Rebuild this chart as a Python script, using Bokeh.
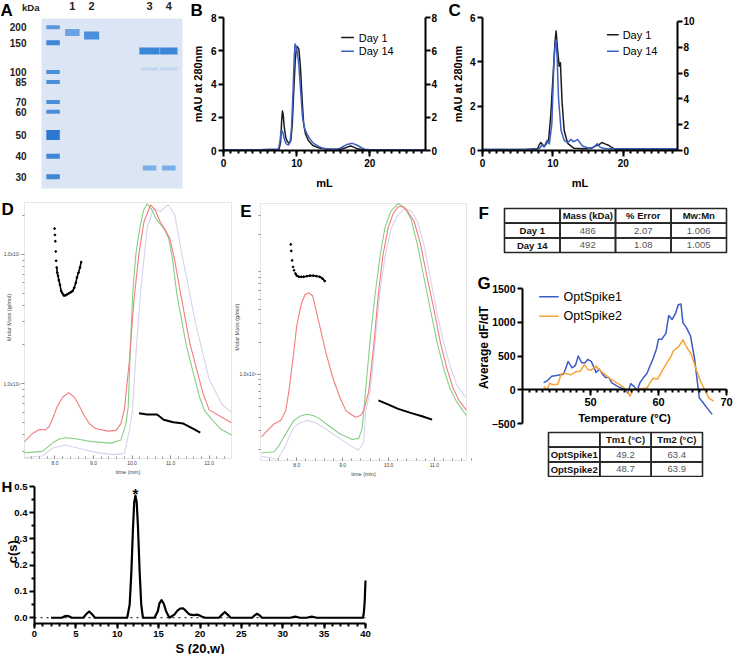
import numpy as np
from bokeh.plotting import figure
from bokeh.models import (Range1d, LinearAxis, LogAxis, FixedTicker, Label,
                          NumeralTickFormatter, LinearScale, BoxAnnotation)
from bokeh.layouts import row, column
from bokeh.embed import file_html
from bokeh.resources import INLINE
from bokeh.core.properties import value

FONT = "Liberation Sans"

# ======================= DATA =======================
# A  SDS-PAGE gel (migration in % of gel length)
ladder_kda = [200, 150, 100, 85, 70, 60, 50, 40, 30]
ladder_migration = [5.1, 14.3, 31.4, 37.4, 49.1, 54.9, 68.6, 81.1, 93.1]
lane_labels = ["1", "2", "3", "4"]
lane_slots = [1, 2, 5, 6]
ladder_slot = 0
band_lane = [1, 2, 3, 4, 3, 4, 3, 4]
band_migration = [8.3, 10.0, 19.1, 19.1, 29.7, 29.7, 88.0, 88.0]

# B  SEC, mL vs mAU
b_day1_ml = [0, 5, 7.6, 7.8, 7.95, 8.05, 8.15, 8.3, 8.5, 8.7, 8.95, 9.2, 9.4, 9.6, 9.8, 9.95, 10.08, 10.3,
             10.5, 10.75, 10.95, 11.2, 11.6, 12.2, 13.2, 14.5, 16.0, 16.6, 17.0, 17.4, 17.8, 18.3, 19.0, 22, 27.6]
b_day1_mau = [0.05, 0.05, 0.08, 0.5, 1.8, 2.37, 2.2, 1.4, 0.8, 0.55, 0.43, 0.6, 1.6, 3.6, 5.4, 6.1, 6.25, 6.1,
              5.1, 3.0, 1.6, 1.0, 0.6, 0.3, 0.13, 0.07, 0.07, 0.15, 0.22, 0.27, 0.2, 0.1, 0.05, 0.04, 0.04]
b_day14_ml = [0, 5, 7.5, 7.7, 7.85, 7.95, 8.1, 8.3, 8.5, 8.7, 8.9, 9.1, 9.3, 9.5, 9.65, 9.77, 9.9, 10.1, 10.3,
              10.55, 10.8, 11.1, 11.4, 11.8, 12.3, 13.0, 13.6, 14.5, 15.5, 16.0, 16.5, 17.0, 17.6, 18.2, 18.8,
              19.3, 20, 27.6]
b_day14_mau = [0.05, 0.05, 0.08, 0.5, 1.1, 1.24, 1.1, 0.7, 0.45, 0.36, 0.33, 0.5, 1.4, 3.5, 5.5, 6.41, 6.3, 5.9,
               5.1, 3.5, 2.0, 1.3, 1.0, 0.7, 0.43, 0.25, 0.13, 0.08, 0.08, 0.15, 0.28, 0.38, 0.43, 0.33, 0.18,
               0.08, 0.05, 0.05]

# C  SEC, mL vs mAU
c_day1_ml = [0, 6, 7.8, 8.05, 8.28, 8.5, 8.75, 9.1, 9.4, 9.7, 10.1, 10.3, 10.46, 10.65, 10.9, 11.07, 11.3,
             11.6, 12.1, 13.0, 14.5, 15.5, 16.0, 16.5, 16.97, 17.4, 17.8, 18.3, 18.8, 20, 27.6]
c_day1_mau = [0.05, 0.05, 0.08, 0.25, 0.36, 0.28, 0.17, 0.32, 0.5, 1.6, 3.8, 4.9, 5.39, 4.6, 3.8, 3.96, 2.2,
              0.9, 0.32, 0.1, 0.08, 0.1, 0.2, 0.25, 0.36, 0.3, 0.25, 0.15, 0.06, 0.05, 0.05]
c_day14_ml = [0, 6, 7.8, 8.1, 8.45, 8.75, 9.15, 9.5, 9.85, 10.15, 10.3, 10.46, 10.6, 10.8, 11.16, 11.6, 12.1,
              12.56, 12.9, 13.3, 13.5, 14.2, 15.1, 15.8, 16.3, 16.7, 17.2, 17.7, 20, 27.6]
c_day14_mau = [0.05, 0.05, 0.06, 0.1, 0.25, 0.17, 0.45, 0.3, 1.2, 4.0, 4.7, 5.0, 4.2, 2.35, 0.9, 0.46, 0.35,
               0.5, 0.4, 0.45, 0.5, 0.2, 0.1, 0.15, 0.3, 0.15, 0.1, 0.08, 0.08, 0.08]

# D  SEC-MALS Day 1 (detector signals normalised 0-1, molar mass in kDa)
d_red_min = [7.21, 7.42, 7.59, 7.76, 7.85, 7.95, 8.05, 8.2, 8.36, 8.5, 8.65, 8.75, 8.9, 9.05, 9.37, 9.59,
             9.71, 9.8, 9.93, 10.05, 10.18, 10.31, 10.48, 10.6, 10.73, 10.86, 10.98, 11.1, 11.24, 11.5, 11.83,
             12.0, 12.34, 12.58]
d_red_sig = [0.066, 0.098, 0.113, 0.112, 0.125, 0.16, 0.2, 0.24, 0.257, 0.24, 0.2, 0.17, 0.135, 0.117, 0.107,
             0.11, 0.136, 0.19, 0.38, 0.62, 0.8, 0.925, 0.991, 0.97, 0.925, 0.893, 0.86, 0.78, 0.66, 0.45, 0.26,
             0.19, 0.16, 0.14]
d_green_min = [7.21, 7.68, 7.93, 8.1, 8.27, 8.53, 8.95, 9.46, 9.71, 9.84, 9.9, 9.96, 10.02, 10.1, 10.2, 10.3,
               10.39, 10.5, 10.65, 10.82, 10.95, 11.05, 11.16, 11.41, 11.75, 11.88, 12.09, 12.3, 12.58]
d_green_sig = [0.022, 0.028, 0.06, 0.075, 0.081, 0.077, 0.066, 0.06, 0.072, 0.136, 0.2, 0.45, 0.65, 0.8, 0.9,
               0.97, 0.995, 0.975, 0.93, 0.90, 0.86, 0.78, 0.645, 0.44, 0.24, 0.187, 0.149, 0.115, 0.092]
d_uv_min = [7.21, 7.68, 7.93, 8.27, 8.7, 9.12, 9.54, 9.8, 9.93, 10.01, 10.12, 10.22, 10.39, 10.56, 10.73,
            10.94, 11.11, 11.33, 11.66, 12.0, 12.34, 12.58]
d_uv_sig = [0.004, 0.01, 0.04, 0.053, 0.037, 0.022, 0.015, 0.02, 0.11, 0.187, 0.45, 0.645, 0.9, 0.977, 0.965,
            0.991, 0.95, 0.77, 0.52, 0.31, 0.21, 0.18]
d_mass_agg_min = [7.99, 8.00, 8.01, 8.02, 8.03, 8.045, 8.06, 8.08, 8.10, 8.13, 8.16, 8.19, 8.23, 8.27, 8.32,
                  8.37, 8.42, 8.46, 8.5, 8.54, 8.57, 8.61, 8.65, 8.68]
d_mass_agg_kda = [15800, 14100, 12600, 10500, 8900, 7900, 7200, 6800, 6300, 5800, 5200, 5000, 4800, 4800,
                  4900, 5000, 5100, 5200, 5500, 6000, 6600, 7200, 7900, 8700]
d_mass_main_min = [10.18, 10.39, 10.65, 10.82, 11.07, 11.33, 11.58, 11.77]
d_mass_main_kda = [589, 575, 575, 525, 501, 490, 447, 417]

# E  SEC-MALS Day 14
e_red_min = [7.23, 7.37, 7.51, 7.65, 7.76, 7.83, 7.92, 8.0, 8.1, 8.18, 8.26, 8.35, 8.5, 8.65, 8.79, 8.93,
             9.07, 9.18, 9.28, 9.39, 9.46, 9.57, 9.68, 9.78, 9.88, 9.99, 10.1, 10.2, 10.28, 10.4, 10.56, 10.7,
             10.84, 11.0, 11.13, 11.27, 11.41, 11.55, 11.7]
e_red_sig = [0.092, 0.118, 0.143, 0.156, 0.194, 0.27, 0.4, 0.524, 0.61, 0.645, 0.653, 0.64, 0.524, 0.41,
             0.32, 0.25, 0.194, 0.18, 0.168, 0.175, 0.194, 0.27, 0.45, 0.65, 0.8, 0.904, 0.96, 0.985, 0.99,
             0.975, 0.93, 0.84, 0.714, 0.58, 0.46, 0.36, 0.28, 0.23, 0.195]
e_green_min = [7.23, 7.51, 7.62, 7.72, 7.83, 7.94, 8.08, 8.22, 8.36, 8.5, 8.7, 8.93, 9.21, 9.35, 9.42, 9.46,
               9.5, 9.6, 9.71, 9.82, 9.92, 10.05, 10.21, 10.35, 10.49, 10.63, 10.77, 10.92, 11.06, 11.2, 11.34,
               11.48, 11.62, 11.7]
e_green_sig = [0.029, 0.034, 0.06, 0.092, 0.125, 0.156, 0.173, 0.18, 0.175, 0.162, 0.135, 0.105, 0.082,
               0.086, 0.12, 0.19, 0.27, 0.47, 0.65, 0.8, 0.904, 0.97, 0.999, 0.985, 0.94, 0.84, 0.714, 0.58,
               0.46, 0.36, 0.28, 0.23, 0.194, 0.175]
e_uv_min = [7.23, 7.44, 7.58, 7.72, 7.83, 7.94, 8.08, 8.22, 8.4, 8.57, 8.75, 8.93, 9.21, 9.35, 9.46, 9.5,
            9.6, 9.7, 9.81, 9.93, 10.06, 10.2, 10.35, 10.5, 10.63, 10.77, 10.91, 11.05, 11.2, 11.34, 11.48,
            11.68]
e_uv_sig = [0.016, 0.01, 0.005, 0.046, 0.09, 0.13, 0.148, 0.156, 0.148, 0.13, 0.108, 0.086, 0.054, 0.04,
            0.07, 0.19, 0.27, 0.45, 0.65, 0.8, 0.904, 0.955, 0.98, 0.97, 0.93, 0.84, 0.714, 0.58, 0.46, 0.37,
            0.295, 0.245]
e_mass_agg_min = [7.87, 7.88, 7.9, 7.92, 7.94, 7.97, 8.0, 8.05, 8.1, 8.15, 8.22, 8.29, 8.36, 8.43, 8.5,
                  8.56, 8.61]
e_mass_agg_kda = [16200, 14100, 11500, 10000, 9300, 8700, 8300, 8100, 8100, 8100, 8200, 8300, 8300, 8200,
                  8100, 7800, 7400]
e_mass_main_min = [9.78, 10.0, 10.21, 10.5, 10.75, 10.95]
e_mass_main_kda = [575, 525, 479, 437, 407, 380]

# F  SEC-MALS table
f_columns = ["", "Mass (kDa)", "% Error", "Mw:Mn"]
f_samples = ["Day 1", "Day 14"]
f_mass = [486, 492]
f_error = ["2.07", "1.08"]
f_mwmn = ["1.006", "1.005"]

# G  DSF
g_temp1 = [43.1, 43.6, 44.3, 45.0, 46.0, 46.3, 46.7, 47.3, 47.8, 48.2, 48.7, 49.2, 49.6, 50.1, 50.6, 50.8,
           51.3, 51.7, 52.2, 52.7, 53.1, 53.8, 54.5, 55.2, 55.5, 55.9, 56.4, 56.8, 57.0, 57.3, 57.8, 58.3,
           58.7, 59.2, 59.7, 60.0, 60.5, 61.1, 61.5, 62.0, 62.5, 62.9, 63.3, 63.6, 64.1, 64.7, 65.3, 66.0,
           66.4, 67.1, 67.9]
g_dfdt1 = [105, 130, 200, 210, 230, 300, 420, 325, 365, 500, 400, 400, 450, 420, 315, 255, 305, 240, 180,
           180, 105, 60, 25, 0, -50, 90, 50, 0, 25, 110, 180, 240, 340, 460, 605, 750, 750, 840, 1100, 1040,
           1130, 1260, 1270, 990, 920, 800, 460, -120, -170, -265, -365]
g_temp2 = [43.1, 43.6, 44.0, 44.5, 45.2, 45.7, 46.4, 47.1, 47.8, 48.5, 49.1, 49.6, 50.1, 50.8, 51.5, 52.2,
           52.9, 53.6, 54.3, 55.0, 55.5, 55.8, 56.3, 56.9, 57.6, 58.3, 58.7, 59.2, 59.9, 60.6, 61.3, 61.8,
           62.2, 62.9, 63.6, 63.9, 64.3, 64.8, 65.5, 66.2, 66.8, 67.4, 68.1]
g_dfdt2 = [50, 0, 95, 75, 80, 240, 240, 220, 265, 275, 370, 305, 290, 350, 275, 220, 160, 120, 75, 25, -25,
           -95, 0, 15, 15, 25, 95, 170, 160, 290, 410, 485, 580, 630, 740, 680, 605, 530, 315, 120, 0, -120,
           -170]
tm_columns = ["", "Tm1 (°C)", "Tm2 (°C)"]
tm_samples = ["OptSpike1", "OptSpike2"]
tm1 = [49.2, 48.7]
tm2 = [63.4, 63.9]

# H  AUC c(s)
h_s = [2.0, 3.3, 3.6, 3.9, 4.2, 4.5, 5.9, 6.2, 6.6, 7.0, 7.3, 11.2, 11.5, 11.7, 11.9, 12.05, 12.2, 12.35,
       12.5, 12.7, 12.9, 13.1, 14.5, 14.9, 15.1, 15.35, 15.6, 15.9, 16.3, 16.9, 17.3, 17.6, 17.95, 18.3, 18.7,
       19.2, 19.7, 20.2, 20.6, 22.3, 22.6, 23.0, 23.4, 23.7, 26.3, 26.6, 26.9, 27.2, 27.5, 30.9, 31.5, 32.1,
       32.9, 33.5, 34.1, 39.7, 39.8, 39.9, 40.0]
h_cs = [0, 0, 0.005, 0.007, 0.005, 0, 0, 0.012, 0.024, 0.012, 0, 0, 0.05, 0.17, 0.34, 0.44, 0.465, 0.44,
        0.35, 0.18, 0.05, 0, 0, 0.025, 0.055, 0.067, 0.055, 0.025, 0, 0.012, 0.028, 0.035, 0.036, 0.026, 0.013,
        0.01, 0.012, 0.005, 0, 0, 0.01, 0.022, 0.01, 0, 0, 0.009, 0.015, 0.009, 0, 0, 0.004, 0, 0, 0.004, 0,
        0, 0.02, 0.06, 0.142]

# ======================= GEOMETRY / STYLE =======================
SX, SY = 734 / 750, 654 / 670


def fx(v):
    return int(round(v * SX))


def fy(v):
    return int(round(v * SY))


class Panel:
    """A figure whose frame fills the whole canvas; the axes sit at fixed data locations."""

    def __init__(self, box, frame, xr, yr, ylog=False, extra=None):
        x0, x1, y0, y1 = box
        a, b, c, d = frame
        self.bx, self.by = x0, y0
        W, H = fx(x1) - fx(x0), fy(y1) - fy(y0)
        fa, fb = fx(a) - fx(x0), fx(b) - fx(x0)
        fc, fd = fy(c) - fy(y0), fy(d) - fy(y0)
        self.ppx = (fb - fa) / (xr[1] - xr[0])
        self.xs = xr[0] - fa / self.ppx
        self.ylog = ylog
        t0, t1 = (np.log10(yr[0]), np.log10(yr[1])) if ylog else yr
        self.ppy = (fd - fc) / (t1 - t0)
        self.tb = t0 - (H - fd) / self.ppy
        self.tt = self.tb + H / self.ppy
        kw = {}
        if extra:
            ers, ess = {}, {}
            for name, (e0, e1) in extra.items():
                q = (fd - fc) / (e1 - e0)
                s = e0 - (H - fd) / q
                ers[name] = Range1d(s, s + H / q)
                ess[name] = LinearScale()
            kw = dict(extra_y_ranges=ers, extra_y_scales=ess)
        g = (lambda v: 10 ** v) if ylog else (lambda v: v)
        self.p = figure(width=W, height=H, x_range=Range1d(self.xs, self.xs + W / self.ppx),
                        y_range=Range1d(g(self.tb), g(self.tt)), y_axis_type="log" if ylog else "linear",
                        x_axis_location=None, y_axis_location=None, min_border=0,
                        min_border_left=0, min_border_right=0, min_border_top=0, min_border_bottom=0,
                        output_backend="svg", toolbar_location=None, **kw)
        self.p.title.visible = False
        self.p.outline_line_color = None
        self.p.grid.visible = False
        self.p.background_fill_color = "white"
        self.p.border_fill_color = "white"
        self.W, self.H = W, H

    def X(self, px):
        return self.xs + (px - self.bx) * SX / self.ppx

    def Y(self, py):
        v = self.tt - (py - self.by) * SY / self.ppy
        return 10 ** v if self.ylog else v

    def text(self, txt, px, py, size, bold=False, color="black", align="left", baseline="top", angle=0.0):
        self.p.add_layout(Label(x=self.X(px), y=self.Y(py), text=txt, angle=angle, text_font=FONT,
                                text_font_size=size, text_font_style="bold" if bold else "normal",
                                text_color=color, text_align=align, text_baseline=baseline))

    def letter(self, txt, px, py, size=17):
        self.text(txt, px, py - 0.2 * size, f"{size}px", bold=True)

    def legend(self, entries, line_x0, line_x1, text_x, centers, size, lw=1.5):
        for (lab, col), yc in zip(entries, centers):
            self.p.segment(x0=[self.X(line_x0)], y0=[self.Y(yc)], x1=[self.X(line_x1)], y1=[self.Y(yc)],
                           line_color=col, line_width=lw)
            self.text(lab, text_x, yc, size, baseline="middle")


def add_axis(P, side, loc, bounds, ticks, minor=(), log=False, range_name=None, overrides=None, fmt=None,
             label=None):
    cls = LogAxis if log else LinearAxis
    ax = cls(fixed_location=loc, bounds=bounds, ticker=FixedTicker(ticks=list(ticks), minor_ticks=list(minor)))
    if range_name:
        ax.y_range_name = range_name
    if overrides:
        ax.major_label_overrides = overrides
    if fmt is not None:
        ax.formatter = fmt
    if label:
        ax.axis_label = label
    P.p.add_layout(ax, side)
    return ax


def style_axis(ax, label_size="10px", title_size="11px", lw=2, out=5, minor_out=3, std=2, title_std=4):
    ax.axis_line_width = lw
    ax.axis_line_color = "black"
    ax.major_tick_line_width = lw
    ax.minor_tick_line_width = lw
    ax.major_tick_line_color = "black"
    ax.minor_tick_line_color = "black"
    ax.major_tick_in = 0
    ax.major_tick_out = out
    ax.minor_tick_in = 0
    ax.minor_tick_out = minor_out
    ax.major_label_text_font = FONT
    ax.major_label_text_font_size = label_size
    ax.major_label_text_font_style = "bold"
    ax.major_label_text_color = "black"
    ax.major_label_standoff = std
    ax.axis_label_text_font = FONT
    ax.axis_label_text_font_size = title_size
    ax.axis_label_text_font_style = "bold"
    ax.axis_label_text_color = "black"
    ax.axis_label_standoff = title_std


def style_small(ax):
    ax.axis_line_color = None
    ax.major_tick_line_color = "#888888"
    ax.minor_tick_line_color = "#888888"
    ax.major_tick_line_width = 1
    ax.minor_tick_line_width = 1
    ax.major_label_text_font = FONT
    ax.major_label_text_font_size = "5px"
    ax.major_label_text_color = "#444444"
    ax.axis_label_text_font = FONT
    ax.axis_label_text_font_size = "5.5px"
    ax.axis_label_text_font_style = "normal"
    ax.axis_label_text_color = "#444444"


BLACK = "#1a1a1a"
BLUE = "#3d5fc4"
ORANGE = "#f7a53a"
RED = "#f47c7c"
GREEN = "#86cf86"
UV = "#d6d3ee"

# ----------------------- A : gel -----------------------
A_XR, A_YR = (-0.6, 6.71), (100, 0)
PA = Panel((0, 192, 0, 195), (42, 186, 18, 193), A_XR, A_YR)
PA.p.add_layout(BoxAnnotation(left=A_XR[0], right=A_XR[1], bottom=A_YR[0], top=A_YR[1],
                              fill_color="#dbe5f3", fill_alpha=1, line_color=None, level="underlay"))
ladder_px = [4, 5, 4, 4, 4, 4, 10, 5, 5]
ladder_col = ["#5a97de", "#3f86d6", "#4a8edb", "#4a8edb", "#4a8edb", "#4a8edb", "#2b78d3", "#3f86d6", "#3f86d6"]
PA.p.rect(x=[ladder_slot] * len(ladder_kda), y=ladder_migration, width=0.7, height=ladder_px,
          height_units="screen", fill_color=ladder_col, line_color=None)
band_px = [7, 8, 7, 7, 3, 3, 5, 5]
band_w = [0.75, 0.78, 1.05, 0.9, 0.9, 0.9, 0.7, 0.7]
band_col = ["#6aa2e2", "#4a8fdc", "#3a86d9", "#3a86d9", "#c3d6f0", "#c3d6f0", "#7aaee6", "#7aaee6"]
PA.p.rect(x=[lane_slots[l - 1] for l in band_lane], y=band_migration, width=band_w, height=band_px,
          height_units="screen", fill_color=band_col, line_color=None)
axA = add_axis(PA, "left", A_XR[0], (0, 100), ladder_migration,
               overrides={m: str(k) for m, k in zip(ladder_migration, ladder_kda)})
topA = add_axis(PA, "above", 0, A_XR, lane_slots,
                overrides={s: t for s, t in zip(lane_slots, lane_labels)})
for ax, sz, sd in ((axA, "10px", 9), (topA, "11px", 3)):
    ax.axis_line_color = None
    ax.major_tick_line_color = None
    ax.minor_tick_line_color = None
    ax.major_label_text_font = FONT
    ax.major_label_text_font_size = sz
    ax.major_label_text_font_style = "bold"
    ax.major_label_text_color = "#222222"
    ax.major_label_standoff = sd
PA.text("kDa", 22, 2, "9.5px", bold=True, color="#222222")
PA.letter("A", 0, 4)

# ----------------------- B -----------------------
B_XR, B_YR = (0, 27.6), (0, 8)
PB = Panel((192, 455, 0, 195), (228, 434, 17, 154), B_XR, B_YR)
xB = add_axis(PB, "below", B_YR[0], B_XR, [0, 10, 20], range(0, 28), label="mL")
yB = add_axis(PB, "left", B_XR[0], B_YR, [0, 2, 4, 6, 8], label="mAU at 280nm")
rB = add_axis(PB, "right", B_XR[1], B_YR, [0, 2, 4, 6, 8])
for ax in (xB, yB, rB):
    style_axis(ax, std=2, title_std=4)
xB.major_tick_out = 6
xB.axis_label_standoff = 7
rB.major_label_standoff = 1
PB.p.line(b_day1_ml, b_day1_mau, line_color=BLACK, line_width=1.5, line_join="round")
PB.p.line(b_day14_ml, b_day14_mau, line_color=BLUE, line_width=1.5, line_join="round")
PB.legend([("Day 1", BLACK), ("Day 14", BLUE)], 348, 361, 366, [38, 52], "11px")
PB.letter("B", 194, 4)

# ----------------------- C -----------------------
C_XR, C_YR, C_YR2 = (0, 27.7), (0, 6), (0, 10.3)
PC = Panel((455, 750, 0, 195), (493, 692, 17, 154), C_XR, C_YR, extra={"right": C_YR2})
xC = add_axis(PC, "below", C_YR[0], C_XR, [0, 10, 20], range(0, 28), label="mL")
yC = add_axis(PC, "left", C_XR[0], C_YR, [0, 2, 4, 6], label="mAU at 280nm")
rC = add_axis(PC, "right", C_XR[1], (0, 10), [0, 2, 4, 6, 8, 10], range_name="right")
for ax in (xC, yC, rC):
    style_axis(ax, std=2, title_std=3)
xC.major_tick_out = 6
xC.axis_label_standoff = 7
rC.major_label_standoff = 1
PC.p.line(c_day1_ml, c_day1_mau, line_color=BLACK, line_width=1.5, line_join="round")
PC.p.line(c_day14_ml, c_day14_mau, line_color=BLUE, line_width=1.5, line_join="round")
PC.legend([("Day 1", BLACK), ("Day 14", BLUE)], 620, 632, 636, [35, 52], "11px")
PC.letter("C", 458, 4)


# ----------------------- D / E : SEC-MALS -----------------------
def mals_panel(box, frame, xr, yr, major, overrides, red, green, uv, agg, main, title_xy, letter, letter_xy):
    P = Panel(box, frame, xr, yr, ylog=True, extra={"det": (0, 1)})
    p = P.p
    p.add_layout(BoxAnnotation(left=xr[0], right=xr[1], bottom=yr[0], top=yr[1], fill_alpha=0,
                               line_color="#a8a8a8", line_width=1))
    xa = add_axis(P, "below", yr[0], xr, [8, 9, 10, 11, 12],
                  [round(v, 1) for v in np.arange(7.4, 12.6, 0.2)],
                  fmt=NumeralTickFormatter(format="0.0"), label="time (min)")
    style_small(xa)
    xa.major_tick_in = 3
    xa.major_tick_out = 0
    xa.minor_tick_in = 2
    xa.minor_tick_out = 0
    xa.major_label_standoff = 2
    xa.axis_label_standoff = 1
    ya = add_axis(P, "left", xr[0], yr, major,
                  [m * 10 ** e for e in (5, 6, 7) for m in range(2, 10) if yr[0] <= m * 10 ** e <= yr[1]],
                  log=True, overrides=overrides)
    style_small(ya)
    ya.major_tick_in = 0
    ya.major_tick_out = 3
    ya.minor_tick_in = 0
    ya.minor_tick_out = 2
    ya.major_label_standoff = 1
    p.line(uv[0], uv[1], y_range_name="det", line_color=UV, line_width=1.1)
    p.line(green[0], green[1], y_range_name="det", line_color=GREEN, line_width=1.1)
    p.line(red[0], red[1], y_range_name="det", line_color=RED, line_width=1.1)
    agg_g = np.array(agg[1]) * 1000.0
    main_g = np.array(main[1]) * 1000.0
    p.scatter(agg[0], agg_g, size=1.8, color="black")
    p.line(agg[0][5:], agg_g[5:], line_color="black", line_width=1.6)
    p.line(main[0], main_g, line_color="black", line_width=2)
    P.text("Molar Mass (g/mol)", title_xy[0], title_xy[1], "5.5px", color="#444444", align="center",
           baseline="middle", angle=np.pi / 2)
    P.letter(letter, *letter_xy)
    return P


PD = mals_panel((0, 237, 195, 489), (25, 236, 207, 469), (7.21, 12.58), (10 ** 5.42, 10 ** 7.40),
                [1000000, 10000000], {1000000: "1.0x10⁶", 10000000: "1.0x10⁷"},
                (d_red_min, d_red_sig), (d_green_min, d_green_sig), (d_uv_min, d_uv_sig),
                (d_mass_agg_min, d_mass_agg_kda), (d_mass_main_min, d_mass_main_kda),
                (8.5, 325), "D", (1, 208))
PE = mals_panel((237, 487, 195, 489), (266, 476, 208, 471), (7.21, 11.7), (10 ** 5.2, 10 ** 7.59),
                [1000000], {1000000: "1.0x10⁶"},
                (e_red_min, e_red_sig), (e_green_min, e_green_sig), (e_uv_min, e_uv_sig),
                (e_mass_agg_min, e_mass_agg_kda), (e_mass_main_min, e_mass_main_kda),
                (241.5, 335), "E", (245, 210))


# ----------------------- tables -----------------------
def table_panel(box, frame, columns, samples, values, size="9.5px"):
    ncol, nrow = len(columns), len(samples) + 1
    P = Panel(box, frame, (0, ncol), (nrow, 0))
    p = P.p
    cx = [c + 0.5 for r in range(nrow) for c in range(ncol)]
    cy = [r + 0.5 for r in range(nrow) for c in range(ncol)]
    p.rect(x=cx, y=cy, width=1, height=1, fill_color=None, line_color="#262626", line_width=1.6)
    p.text(x=[c + 0.5 for c in range(1, ncol)], y=[0.5] * (ncol - 1), text=columns[1:],
           text_font=value(FONT), text_font_size=value(size), text_font_style="bold",
           text_align="center", text_baseline="middle", text_color="#111111")
    p.text(x=[0.5] * len(samples), y=[r + 1.5 for r in range(len(samples))], text=samples,
           text_font=value(FONT), text_font_size=value(size), text_font_style="bold",
           text_align="center", text_baseline="middle", text_color="#111111")
    vx, vy, vt = [], [], []
    for r, vals in enumerate(values):
        for c, v in enumerate(vals):
            vx.append(c + 1.5)
            vy.append(r + 1.5)
            vt.append(str(v))
    p.text(x=vx, y=vy, text=vt, text_font=value(FONT), text_font_size=value(size),
           text_align="center", text_baseline="middle", text_color="#555555")
    return P


PF = table_panel((487, 750, 195, 272), (515, 742, 213, 258), f_columns, f_samples,
                 [[m, e, w] for m, e, w in zip(f_mass, f_error, f_mwmn)])
PF.letter("F", 488, 212)

# ----------------------- G -----------------------
G_XR, G_YR = (40, 70), (-500, 1500)
PG = Panel((487, 750, 272, 440), (533, 742, 295, 433), G_XR, G_YR)
yG = add_axis(PG, "left", G_XR[0], G_YR, [-500, 0, 500, 1000, 1500])
style_axis(yG, label_size="10.5px", std=2)
xG = add_axis(PG, "below", 0, G_XR, [50, 60, 70], range(41, 71), label="Temperature (°C)")
style_axis(xG, label_size="11px", title_size="11.5px", out=6, minor_out=3, std=2, title_std=3)
PG.p.line(g_temp1, g_dfdt1, line_color="#3b5cc6", line_width=1.5, line_join="round")
PG.p.line(g_temp2, g_dfdt2, line_color=ORANGE, line_width=1.5, line_join="round")
PG.legend([("OptSpike1", "#3b5cc6"), ("OptSpike2", ORANGE)], 550, 570, 575, [303, 323], "12.5px")
PG.text("Average dF/dT", 494, 355, "12px", bold=True, align="center", baseline="middle", angle=np.pi / 2)
PG.letter("G", 487, 283)

PT = table_panel((487, 750, 440, 489), (560, 717, 443, 488), tm_columns, tm_samples,
                 [[a, b] for a, b in zip(tm1, tm2)])

# ----------------------- H -----------------------
H_XR, H_YR = (0, 40), (-0.022, 0.5)
PH = Panel((0, 420, 489, 670), (35, 373, 498, 638), H_XR, H_YR)
xH = add_axis(PH, "below", H_YR[0], H_XR, range(0, 41, 5), range(0, 41), label="S (20,w)")
yH = add_axis(PH, "left", H_XR[0], H_YR, [0, 0.1, 0.2, 0.3, 0.4, 0.5], [0.05, 0.15, 0.25, 0.35, 0.45],
              fmt=NumeralTickFormatter(format="0.0"))
style_axis(xH, label_size="9.5px", title_size="13px", std=2, title_std=1)
style_axis(yH, label_size="9.5px", std=2)
PH.text("c(s)", 12, 565, "13px", bold=True, align="center", baseline="middle", angle=np.pi / 2)
PH.p.segment(x0=[H_XR[0]], y0=[0], x1=[H_XR[1]], y1=[0], line_color="black", line_width=1,
             line_dash="dotted")
PH.p.line(h_s, h_cs, line_color="black", line_width=2.2, line_join="round")
ipk = int(np.argmax(h_cs))
PH.p.add_layout(Label(x=h_s[ipk], y=h_cs[ipk] + 0.008, text="*", text_align="center",
                      text_baseline="alphabetic", text_font=FONT, text_font_style="bold",
                      text_font_size="15px", text_color="black"))
PH.letter("H", 1, 493, size=15)

layout = column(row(PA.p, PB.p, PC.p), row(PD.p, PE.p, column(PF.p, PG.p, PT.p)), PH.p)
open("out.html", "w").write(file_html(layout, INLINE))
